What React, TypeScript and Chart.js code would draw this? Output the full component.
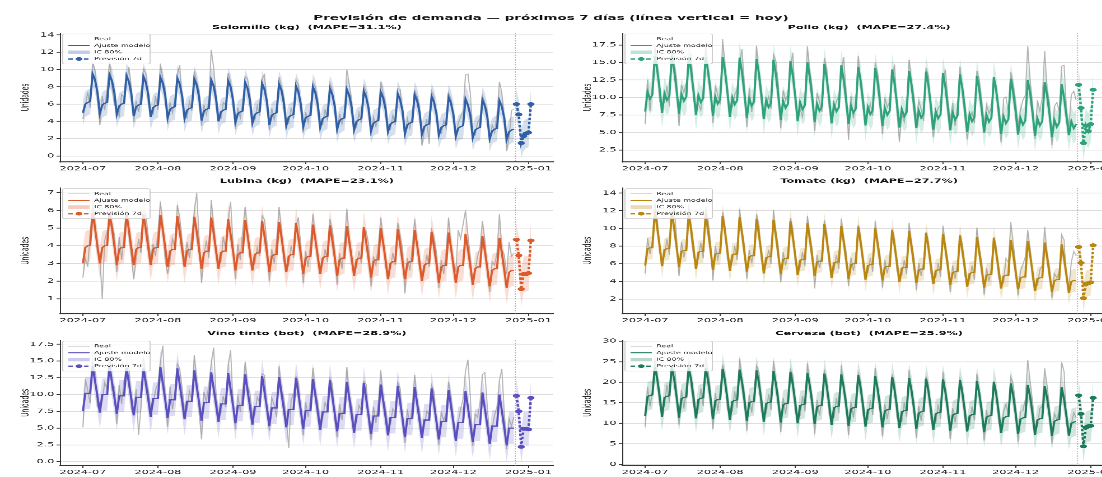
import React, { useEffect, useRef } from 'react';
import { Chart, registerables } from 'chart.js';

Chart.register(...registerables);

// ---------------- text / dates ----------------
const SUPTITLE = 'Previsión de demanda — próximos 7 días (línea vertical = hoy)';
const Y_LABEL = 'Unidades';
const LEGEND_LABELS = ['Real', 'Ajuste modelo', 'IC 80%', 'Previsión 7d'];
const START_DATE = '2024-07-01';
const FORECAST_START = '2024-12-27';
const HOY = '2024-12-26T14:00:00';
const MONTH_TICKS = ['2024-07', '2024-08', '2024-09', '2024-10', '2024-11', '2024-12', '2025-01'];

// ---------------- data (daily, from 2024-07-01) ----------------
const SOLOMILLO_REAL = [
  4.3,5.8,7.4,5.6,10.8,9.9,6.5,
  3.6,6.9,5.3,7.8,11.0,8.1,5.9,
  5.5,4.6,7.1,6.8,8.4,10.3,7.9,
  3.9,6.4,5.1,7.2,10.1,9.6,6.2,
  5.2,4.8,6.9,5.3,10.7,8.8,7.8,
  3.7,6.2,5.0,6.6,9.4,10.5,6.0,
  4.9,4.4,6.3,5.2,9.8,8.6,7.6,
  3.5,5.9,4.8,6.4,12.3,10.2,7.1,
  4.6,4.3,6.2,5.9,9.6,8.5,5.8,
  3.1,5.6,4.4,6.1,9.2,8.9,7.0,
  4.5,4.1,5.8,4.6,8.9,9.4,5.7,
  3.0,5.5,4.2,5.7,9.1,8.0,6.8,
  4.2,3.8,5.6,4.3,8.8,8.2,5.3,
  2.7,5.1,3.9,5.5,8.6,7.9,6.6,
  3.9,3.6,5.4,4.1,8.4,7.6,5.1,
  2.5,4.9,3.7,5.2,10.0,8.3,6.3,
  3.6,3.3,5.0,3.8,8.1,7.4,4.9,
  2.3,4.5,3.4,4.9,8.6,7.2,6.1,
  3.4,3.1,4.7,3.6,7.8,7.7,4.6,
  2.0,4.3,3.2,4.6,7.6,6.9,5.8,
  1.2,3.0,4.3,1.4,7.5,6.8,4.4,
  3.0,2.6,4.1,3.2,7.3,6.6,4.3,
  1.7,3.8,4.5,5.3,9.4,9.5,7.2,
  2.8,2.4,3.9,4.4,7.0,6.1,5.2,
  1.5,3.6,2.7,4.8,8.6,7.3,4.0,
  0.6,2.2,5.3,5.4,
];
const SOLOMILLO_FIT = [
  5.0,6.0,6.2,6.3,9.5,8.8,7.4,
  4.9,5.9,6.1,6.2,9.4,8.7,7.3,
  4.8,5.8,6.0,6.1,9.3,8.6,7.2,
  4.6,5.7,5.9,6.0,9.2,8.5,7.1,
  4.5,5.6,5.8,5.9,9.1,8.4,7.0,
  4.4,5.4,5.6,5.7,9.0,8.3,6.9,
  4.3,5.3,5.5,5.6,8.9,8.2,6.8,
  4.1,5.2,5.4,5.5,8.8,8.1,6.6,
  4.0,5.1,5.3,5.4,8.7,8.0,6.5,
  3.9,4.9,5.1,5.2,8.5,7.8,6.4,
  3.8,4.8,5.0,5.1,8.4,7.7,6.3,
  3.6,4.7,4.9,5.0,8.3,7.6,6.1,
  3.5,4.5,4.7,4.8,8.1,7.4,6.0,
  3.4,4.4,4.6,4.7,8.0,7.3,5.9,
  3.3,4.3,4.5,4.6,7.8,7.1,5.8,
  3.1,4.1,4.3,4.4,7.7,7.0,5.6,
  3.0,4.0,4.2,4.3,7.5,6.8,5.5,
  2.9,3.8,4.0,4.1,7.4,6.7,5.4,
  2.8,3.7,3.9,4.0,7.2,6.5,5.2,
  2.6,3.6,3.8,3.9,7.1,6.4,5.1,
  2.5,3.4,3.6,3.7,6.9,6.2,4.9,
  2.4,3.3,3.5,3.6,6.8,6.1,4.8,
  2.3,3.2,3.4,3.5,6.6,5.9,4.7,
  2.1,3.0,3.2,3.3,6.5,5.8,4.5,
  2.0,2.9,3.1,3.2,6.4,5.7,4.4,
  1.9,2.8,3.0,3.1,
];
const SOLOMILLO_LO = [
  3.5,4.5,4.7,4.8,8.0,7.3,5.9,
  3.4,4.4,4.6,4.7,7.9,7.2,5.8,
  3.3,4.3,4.5,4.6,7.8,7.1,5.7,
  3.1,4.2,4.4,4.5,7.7,7.0,5.6,
  3.0,4.1,4.3,4.4,7.6,6.9,5.5,
  2.9,3.9,4.1,4.2,7.5,6.8,5.4,
  2.8,3.8,4.0,4.1,7.4,6.7,5.3,
  2.6,3.7,3.9,4.0,7.3,6.6,5.1,
  2.5,3.6,3.8,3.9,7.2,6.5,5.0,
  2.4,3.4,3.6,3.7,7.0,6.3,4.9,
  2.3,3.3,3.5,3.6,6.9,6.2,4.8,
  2.1,3.2,3.4,3.5,6.8,6.1,4.6,
  2.0,3.0,3.2,3.3,6.6,5.9,4.5,
  1.9,2.9,3.1,3.2,6.5,5.8,4.4,
  1.8,2.8,3.0,3.1,6.3,5.6,4.3,
  1.6,2.6,2.8,2.9,6.2,5.5,4.1,
  1.5,2.5,2.7,2.8,6.0,5.3,4.0,
  1.4,2.3,2.5,2.6,5.9,5.2,3.9,
  1.3,2.2,2.4,2.5,5.7,5.0,3.7,
  1.1,2.1,2.3,2.4,5.6,4.9,3.6,
  1.0,1.9,2.1,2.2,5.4,4.7,3.4,
  0.9,1.8,2.0,2.1,5.3,4.6,3.3,
  0.8,1.7,1.9,2.0,5.1,4.4,3.2,
  0.6,1.5,1.7,1.8,5.0,4.3,3.0,
  0.5,1.4,1.6,1.7,4.9,4.2,2.9,
  0.4,1.3,1.5,1.6,
];
const SOLOMILLO_HI = [
  6.5,7.5,7.7,7.8,11.0,10.3,8.9,
  6.4,7.4,7.6,7.7,10.9,10.2,8.8,
  6.3,7.3,7.5,7.6,10.8,10.1,8.7,
  6.1,7.2,7.4,7.5,10.7,10.0,8.6,
  6.0,7.1,7.3,7.4,10.6,9.9,8.5,
  5.9,6.9,7.1,7.2,10.5,9.8,8.4,
  5.8,6.8,7.0,7.1,10.4,9.7,8.3,
  5.6,6.7,6.9,7.0,10.3,9.6,8.1,
  5.5,6.6,6.8,6.9,10.2,9.5,8.0,
  5.4,6.4,6.6,6.7,10.0,9.3,7.9,
  5.3,6.3,6.5,6.6,9.9,9.2,7.8,
  5.1,6.2,6.4,6.5,9.8,9.1,7.6,
  5.0,6.0,6.2,6.3,9.6,8.9,7.5,
  4.9,5.9,6.1,6.2,9.5,8.8,7.4,
  4.8,5.8,6.0,6.1,9.3,8.6,7.3,
  4.6,5.6,5.8,5.9,9.2,8.5,7.1,
  4.5,5.5,5.7,5.8,9.0,8.3,7.0,
  4.4,5.3,5.5,5.6,8.9,8.2,6.9,
  4.3,5.2,5.4,5.5,8.7,8.0,6.7,
  4.1,5.1,5.3,5.4,8.6,7.9,6.6,
  4.0,4.9,5.1,5.2,8.4,7.7,6.4,
  3.9,4.8,5.0,5.1,8.3,7.6,6.3,
  3.8,4.7,4.9,5.0,8.1,7.4,6.2,
  3.6,4.5,4.7,4.8,8.0,7.3,6.0,
  3.5,4.4,4.6,4.7,7.9,7.2,5.9,
  3.4,4.3,4.5,4.6,
];
const SOLOMILLO_FC = [6.0, 4.8, 1.5, 2.3, 2.6, 2.7, 6.0];
const SOLOMILLO_FC_LO = [4.3, 3.1, -0.2, 0.6, 0.9, 1.0, 4.3];
const SOLOMILLO_FC_HI = [7.7, 6.5, 3.2, 4.0, 4.3, 4.4, 7.7];

const POLLO_REAL = [
  6.2,12.5,8.1,11.9,17.2,15.1,9.4,
  8.9,9.3,11.6,8.7,16.8,14.9,12.6,
  5.9,11.8,10.7,12.1,14.6,16.2,9.7,
  8.6,9.1,8.2,11.3,17.5,13.0,12.2,
  6.4,11.7,10.3,9.0,18.3,14.6,10.1,
  8.5,8.6,10.4,11.2,14.8,16.9,11.9,
  5.8,11.3,7.9,10.7,17.4,12.6,9.2,
  8.0,9.0,10.1,8.4,16.1,15.2,11.8,
  5.6,11.0,9.6,10.5,14.3,16.4,9.0,
  7.7,8.4,7.2,10.2,17.3,13.8,11.4,
  5.2,10.6,9.4,7.9,15.6,14.1,8.6,
  7.6,8.1,9.5,10.1,13.4,15.8,10.9,
  3.9,10.2,7.0,9.6,15.9,11.6,8.4,
  7.3,7.8,9.1,7.4,14.9,13.5,10.6,
  4.8,9.9,8.6,9.4,12.8,14.7,7.9,
  3.7,7.6,6.5,9.2,15.4,12.3,10.2,
  6.9,9.5,8.3,6.6,14.2,13.1,7.5,
  4.3,7.1,8.5,8.9,12.6,14.0,9.8,
  6.6,9.2,5.9,8.6,14.4,10.7,7.2,
  4.0,6.8,7.9,6.3,13.8,12.5,9.6,
  6.2,8.9,7.7,8.6,12.1,11.8,7.0,
  3.6,9.8,10.1,7.8,13.6,11.9,9.4,
  5.9,8.2,9.6,10.3,17.3,12.4,8.9,
  4.1,9.6,8.1,10.0,16.6,11.2,9.1,
  3.2,8.7,9.3,8.0,14.5,14.6,8.2,
  5.8,10.4,10.9,9.6,
];
const POLLO_FIT = [
  8.0,10.8,9.8,10.4,15.9,13.9,11.2,
  7.8,10.6,9.6,10.2,15.9,13.9,11.0,
  7.7,10.5,9.5,10.1,15.8,13.8,10.9,
  7.5,10.3,9.3,9.9,15.8,13.7,10.8,
  7.4,10.1,9.1,9.7,15.8,13.7,10.8,
  7.2,10.0,9.0,9.6,15.7,13.6,10.6,
  7.1,9.8,8.8,9.4,15.5,13.4,10.5,
  6.9,9.6,8.6,9.2,15.4,13.3,10.3,
  6.8,9.5,8.5,9.1,15.2,13.1,10.2,
  6.6,9.3,8.3,8.9,15.0,12.9,10.0,
  6.5,9.1,8.1,8.7,14.8,12.7,9.8,
  6.3,9.0,8.0,8.6,14.6,12.5,9.6,
  6.2,8.8,7.8,8.4,14.4,12.4,9.5,
  6.0,8.6,7.6,8.2,14.2,12.2,9.3,
  5.9,8.5,7.5,8.1,14.0,12.0,9.1,
  5.7,8.3,7.3,7.9,13.8,11.8,8.9,
  5.6,8.1,7.1,7.7,13.7,11.7,8.8,
  5.4,8.0,7.0,7.6,13.5,11.5,8.6,
  5.3,7.8,6.8,7.4,13.3,11.3,8.5,
  5.1,7.6,6.6,7.2,13.1,11.1,8.3,
  5.0,7.5,6.5,7.1,12.9,10.9,8.2,
  4.8,7.3,6.3,6.9,12.7,10.7,8.0,
  4.7,7.1,6.1,6.7,12.5,10.6,7.8,
  4.5,7.0,6.0,6.6,12.2,10.3,7.6,
  4.3,6.8,5.8,6.4,11.9,10.0,7.3,
  4.6,6.6,5.6,6.2,
];
const POLLO_LO = [
  5.8,8.6,7.6,8.2,13.7,11.7,9.0,
  5.6,8.4,7.4,8.0,13.7,11.7,8.8,
  5.5,8.3,7.3,7.9,13.6,11.6,8.7,
  5.3,8.1,7.1,7.7,13.6,11.5,8.6,
  5.2,7.9,6.9,7.5,13.6,11.5,8.6,
  5.0,7.8,6.8,7.4,13.5,11.4,8.4,
  4.9,7.6,6.6,7.2,13.3,11.2,8.3,
  4.7,7.4,6.4,7.0,13.2,11.1,8.1,
  4.6,7.3,6.3,6.9,13.0,10.9,8.0,
  4.4,7.1,6.1,6.7,12.8,10.7,7.8,
  4.3,6.9,5.9,6.5,12.6,10.5,7.6,
  4.1,6.8,5.8,6.4,12.4,10.3,7.4,
  4.0,6.6,5.6,6.2,12.2,10.2,7.3,
  3.8,6.4,5.4,6.0,12.0,10.0,7.1,
  3.7,6.3,5.3,5.9,11.8,9.8,6.9,
  3.5,6.1,5.1,5.7,11.6,9.6,6.7,
  3.4,5.9,4.9,5.5,11.5,9.5,6.6,
  3.2,5.8,4.8,5.4,11.3,9.3,6.4,
  3.1,5.6,4.6,5.2,11.1,9.1,6.3,
  2.9,5.4,4.4,5.0,10.9,8.9,6.1,
  2.8,5.3,4.3,4.9,10.7,8.7,6.0,
  2.6,5.1,4.1,4.7,10.5,8.5,5.8,
  2.5,4.9,3.9,4.5,10.3,8.4,5.6,
  2.3,4.8,3.8,4.4,10.0,8.1,5.4,
  2.1,4.6,3.6,4.2,9.7,7.8,5.1,
  2.4,4.4,3.4,4.0,
];
const POLLO_HI = [
  10.2,13.0,12.0,12.6,18.1,16.1,13.4,
  10.0,12.8,11.8,12.4,18.1,16.1,13.2,
  9.9,12.7,11.7,12.3,18.0,16.0,13.1,
  9.7,12.5,11.5,12.1,18.0,15.9,13.0,
  9.6,12.3,11.3,11.9,18.0,15.9,13.0,
  9.4,12.2,11.2,11.8,17.9,15.8,12.8,
  9.3,12.0,11.0,11.6,17.7,15.6,12.7,
  9.1,11.8,10.8,11.4,17.6,15.5,12.5,
  9.0,11.7,10.7,11.3,17.4,15.3,12.4,
  8.8,11.5,10.5,11.1,17.2,15.1,12.2,
  8.7,11.3,10.3,10.9,17.0,14.9,12.0,
  8.5,11.2,10.2,10.8,16.8,14.7,11.8,
  8.4,11.0,10.0,10.6,16.6,14.6,11.7,
  8.2,10.8,9.8,10.4,16.4,14.4,11.5,
  8.1,10.7,9.7,10.3,16.2,14.2,11.3,
  7.9,10.5,9.5,10.1,16.0,14.0,11.1,
  7.8,10.3,9.3,9.9,15.9,13.9,11.0,
  7.6,10.2,9.2,9.8,15.7,13.7,10.8,
  7.5,10.0,9.0,9.6,15.5,13.5,10.7,
  7.3,9.8,8.8,9.4,15.3,13.3,10.5,
  7.2,9.7,8.7,9.3,15.1,13.1,10.4,
  7.0,9.5,8.5,9.1,14.9,12.9,10.2,
  6.9,9.3,8.3,8.9,14.7,12.8,10.0,
  6.7,9.2,8.2,8.8,14.4,12.5,9.8,
  6.5,9.0,8.0,8.6,14.1,12.2,9.5,
  6.8,8.8,7.8,8.4,
];
const POLLO_FC = [11.8, 8.5, 3.5, 6.0, 5.2, 6.2, 11.1];
const POLLO_FC_LO = [9.3, 6.0, 1.0, 3.5, 2.7, 3.7, 8.6];
const POLLO_FC_HI = [14.3, 11.0, 6.0, 8.5, 7.7, 8.7, 13.6];

const LUBINA_REAL = [
  2.2,3.3,2.8,4.7,6.3,5.4,3.6,
  3.4,1.0,4.3,4.8,5.5,5.3,4.6,
  2.5,4.5,3.2,4.6,6.1,4.6,3.4,
  2.1,3.3,4.4,3.6,5.3,5.8,4.5,
  3.3,4.1,3.4,4.8,6.5,5.1,3.2,
  2.4,3.2,4.4,3.9,6.3,5.6,4.2,
  3.1,4.2,3.3,4.6,5.9,7.0,4.4,
  1.9,3.5,4.3,3.3,6.6,5.2,3.9,
  2.9,3.1,4.5,3.8,5.4,6.5,4.1,
  2.1,4.1,3.2,4.9,6.2,4.8,3.3,
  2.8,3.0,3.9,3.4,5.7,5.5,4.2,
  2.0,3.8,3.0,4.3,6.2,4.9,3.1,
  2.7,2.9,4.0,3.3,5.1,5.6,3.9,
  1.9,3.7,2.8,4.1,5.8,4.5,3.2,
  2.6,3.0,3.8,3.1,5.5,4.9,3.7,
  1.8,3.6,2.7,4.2,6.1,4.4,3.0,
  2.5,2.8,3.7,3.0,5.0,4.8,4.1,
  1.7,3.4,2.9,4.0,5.6,4.3,2.8,
  2.4,2.7,3.6,2.9,5.3,4.6,3.8,
  1.3,3.3,2.6,3.9,5.5,4.1,2.7,
  2.3,2.5,3.5,2.8,4.9,4.5,3.6,
  1.6,3.2,2.4,3.7,5.6,4.0,3.1,
  2.5,4.9,4.4,5.2,6.0,4.6,3.3,
  1.9,2.6,3.4,3.9,5.4,4.3,2.4,
  1.4,3.1,2.9,3.6,5.8,3.8,3.5,
  2.4,4.2,3.4,3.6,
];
const LUBINA_FIT = [
  3.0,3.9,4.0,4.0,5.85,5.0,4.0,
  3.0,3.9,4.0,4.0,5.85,5.0,4.0,
  2.9,3.8,3.9,3.9,5.8,4.9,3.9,
  2.9,3.8,3.9,3.9,5.8,4.9,3.9,
  2.9,3.8,3.9,3.9,5.75,4.9,3.9,
  2.8,3.7,3.8,3.8,5.7,4.8,3.8,
  2.8,3.7,3.8,3.8,5.65,4.8,3.8,
  2.7,3.6,3.7,3.7,5.6,4.7,3.7,
  2.7,3.6,3.7,3.7,5.5,4.65,3.7,
  2.6,3.5,3.6,3.6,5.45,4.6,3.6,
  2.6,3.5,3.6,3.6,5.4,4.55,3.6,
  2.5,3.4,3.5,3.5,5.35,4.5,3.5,
  2.5,3.4,3.5,3.5,5.3,4.45,3.5,
  2.4,3.3,3.4,3.4,5.2,4.35,3.4,
  2.4,3.3,3.4,3.4,5.15,4.3,3.35,
  2.3,3.2,3.3,3.3,5.1,4.25,3.3,
  2.3,3.2,3.3,3.3,5.05,4.2,3.25,
  2.2,3.1,3.2,3.2,5.0,4.15,3.2,
  2.1,3.0,3.1,3.1,4.95,4.1,3.1,
  2.1,3.0,3.1,3.1,4.9,4.05,3.1,
  2.0,2.9,3.0,3.0,4.8,3.95,3.0,
  1.9,2.8,2.9,2.9,4.75,3.9,2.9,
  1.9,2.8,2.9,2.9,4.65,3.8,2.85,
  1.8,2.7,2.8,2.8,4.55,3.7,2.75,
  1.7,2.6,2.7,2.7,4.45,3.6,2.65,
  1.6,2.5,2.6,2.6,
];
const LUBINA_LO = [
  2.1,3.0,3.1,3.1,4.95,4.1,3.1,
  2.1,3.0,3.1,3.1,4.95,4.1,3.1,
  2.0,2.9,3.0,3.0,4.9,4.0,3.0,
  2.0,2.9,3.0,3.0,4.9,4.0,3.0,
  2.0,2.9,3.0,3.0,4.85,4.0,3.0,
  1.9,2.8,2.9,2.9,4.8,3.9,2.9,
  1.9,2.8,2.9,2.9,4.75,3.9,2.9,
  1.8,2.7,2.8,2.8,4.7,3.8,2.8,
  1.8,2.7,2.8,2.8,4.6,3.75,2.8,
  1.7,2.6,2.7,2.7,4.55,3.7,2.7,
  1.7,2.6,2.7,2.7,4.5,3.65,2.7,
  1.6,2.5,2.6,2.6,4.45,3.6,2.6,
  1.6,2.5,2.6,2.6,4.4,3.55,2.6,
  1.5,2.4,2.5,2.5,4.3,3.45,2.5,
  1.5,2.4,2.5,2.5,4.25,3.4,2.45,
  1.4,2.3,2.4,2.4,4.2,3.35,2.4,
  1.4,2.3,2.4,2.4,4.15,3.3,2.35,
  1.3,2.2,2.3,2.3,4.1,3.25,2.3,
  1.2,2.1,2.2,2.2,4.05,3.2,2.2,
  1.2,2.1,2.2,2.2,4.0,3.15,2.2,
  1.1,2.0,2.1,2.1,3.9,3.05,2.1,
  1.0,1.9,2.0,2.0,3.85,3.0,2.0,
  1.0,1.9,2.0,2.0,3.75,2.9,1.95,
  0.9,1.8,1.9,1.9,3.65,2.8,1.85,
  0.8,1.7,1.8,1.8,3.55,2.7,1.75,
  0.7,1.6,1.7,1.7,
];
const LUBINA_HI = [
  3.9,4.8,4.9,4.9,6.75,5.9,4.9,
  3.9,4.8,4.9,4.9,6.75,5.9,4.9,
  3.8,4.7,4.8,4.8,6.7,5.8,4.8,
  3.8,4.7,4.8,4.8,6.7,5.8,4.8,
  3.8,4.7,4.8,4.8,6.65,5.8,4.8,
  3.7,4.6,4.7,4.7,6.6,5.7,4.7,
  3.7,4.6,4.7,4.7,6.55,5.7,4.7,
  3.6,4.5,4.6,4.6,6.5,5.6,4.6,
  3.6,4.5,4.6,4.6,6.4,5.55,4.6,
  3.5,4.4,4.5,4.5,6.35,5.5,4.5,
  3.5,4.4,4.5,4.5,6.3,5.45,4.5,
  3.4,4.3,4.4,4.4,6.25,5.4,4.4,
  3.4,4.3,4.4,4.4,6.2,5.35,4.4,
  3.3,4.2,4.3,4.3,6.1,5.25,4.3,
  3.3,4.2,4.3,4.3,6.05,5.2,4.25,
  3.2,4.1,4.2,4.2,6.0,5.15,4.2,
  3.2,4.1,4.2,4.2,5.95,5.1,4.15,
  3.1,4.0,4.1,4.1,5.9,5.05,4.1,
  3.0,3.9,4.0,4.0,5.85,5.0,4.0,
  3.0,3.9,4.0,4.0,5.8,4.95,4.0,
  2.9,3.8,3.9,3.9,5.7,4.85,3.9,
  2.8,3.7,3.8,3.8,5.65,4.8,3.8,
  2.8,3.7,3.8,3.8,5.55,4.7,3.75,
  2.7,3.6,3.7,3.7,5.45,4.6,3.65,
  2.6,3.5,3.6,3.6,5.35,4.5,3.55,
  2.5,3.4,3.5,3.5,
];
const LUBINA_FC = [4.35, 3.45, 1.55, 2.4, 2.4, 2.45, 4.3];
const LUBINA_FC_LO = [3.35, 2.45, 0.55, 1.4, 1.4, 1.45, 3.3];
const LUBINA_FC_HI = [5.35, 4.45, 2.55, 3.4, 3.4, 3.45, 5.3];

const TOMATE_REAL = [
  4.9,8.9,7.1,8.6,12.9,11.2,7.2,
  6.6,6.8,8.8,7.0,11.2,12.6,8.9,
  4.6,8.5,6.7,8.3,12.8,9.1,6.8,
  6.3,6.5,8.4,6.6,12.4,10.9,8.5,
  4.1,8.0,6.5,7.9,11.9,10.2,6.5,
  5.9,6.2,8.0,6.4,12.2,9.8,8.1,
  4.3,7.6,6.1,7.7,11.6,10.4,6.4,
  5.7,5.9,7.6,6.0,12.1,9.6,7.9,
  3.9,7.3,5.8,7.4,11.2,9.9,6.1,
  5.4,5.6,7.3,5.7,11.4,9.3,7.6,
  3.2,7.0,5.5,7.1,10.9,9.5,5.8,
  5.1,5.3,7.0,5.4,11.1,8.9,7.3,
  3.5,6.7,5.2,6.8,10.4,9.1,5.5,
  4.9,5.0,6.7,5.1,10.8,8.6,7.0,
  3.3,6.4,4.9,6.5,9.9,8.8,5.2,
  4.6,4.7,6.4,4.8,10.6,8.3,6.7,
  3.0,6.1,4.6,6.2,9.6,8.5,4.9,
  4.4,4.4,6.1,4.5,10.3,8.0,6.4,
  2.8,5.8,4.3,5.9,9.3,8.2,4.6,
  4.1,4.1,5.8,4.2,10.1,7.7,6.1,
  2.5,5.5,4.0,5.6,9.0,7.9,4.3,
  3.9,3.8,6.6,6.1,10.7,8.4,5.8,
  2.4,5.2,5.9,6.8,9.8,7.6,4.2,
  3.6,3.5,5.3,5.8,10.2,7.1,5.6,
  2.1,4.9,4.4,5.1,9.3,8.7,4.0,
  3.3,6.2,7.4,6.9,
];
const TOMATE_FIT = [
  5.8,7.7,7.8,7.8,12.0,10.1,8.0,
  5.7,7.6,7.7,7.7,11.9,10.0,7.9,
  5.6,7.4,7.5,7.5,11.7,9.9,7.7,
  5.4,7.3,7.4,7.4,11.6,9.7,7.6,
  5.3,7.1,7.2,7.2,11.4,9.6,7.4,
  5.2,7.0,7.1,7.1,11.3,9.5,7.3,
  5.1,6.8,6.9,6.9,11.1,9.3,7.2,
  4.9,6.7,6.8,6.8,11.0,9.2,7.0,
  4.8,6.5,6.6,6.6,10.8,9.0,6.9,
  4.7,6.4,6.5,6.5,10.6,8.8,6.8,
  4.6,6.2,6.3,6.3,10.5,8.7,6.7,
  4.4,6.1,6.2,6.2,10.3,8.5,6.5,
  4.3,5.9,6.0,6.0,10.2,8.4,6.4,
  4.2,5.8,5.9,5.9,10.0,8.3,6.2,
  4.1,5.6,5.7,5.7,9.8,8.1,6.1,
  3.9,5.5,5.6,5.6,9.7,8.0,5.9,
  3.8,5.3,5.4,5.4,9.5,7.8,5.8,
  3.7,5.2,5.3,5.3,9.4,7.7,5.7,
  3.6,5.0,5.1,5.1,9.2,7.5,5.6,
  3.4,4.9,5.0,5.0,9.0,7.3,5.4,
  3.3,4.7,4.8,4.8,8.9,7.2,5.3,
  3.2,4.6,4.7,4.7,8.7,7.1,5.1,
  3.1,4.4,4.5,4.5,8.6,7.0,5.0,
  2.9,4.3,4.4,4.4,8.4,6.8,4.8,
  2.8,4.1,4.2,4.2,8.2,6.6,4.7,
  2.7,4.0,4.1,4.1,
];
const TOMATE_LO = [
  4.5,6.4,6.5,6.5,10.7,8.8,6.7,
  4.4,6.3,6.4,6.4,10.6,8.7,6.6,
  4.3,6.1,6.2,6.2,10.4,8.6,6.4,
  4.1,6.0,6.1,6.1,10.3,8.4,6.3,
  4.0,5.8,5.9,5.9,10.1,8.3,6.1,
  3.9,5.7,5.8,5.8,10.0,8.2,6.0,
  3.8,5.5,5.6,5.6,9.8,8.0,5.9,
  3.6,5.4,5.5,5.5,9.7,7.9,5.7,
  3.5,5.2,5.3,5.3,9.5,7.7,5.6,
  3.4,5.1,5.2,5.2,9.3,7.5,5.5,
  3.3,4.9,5.0,5.0,9.2,7.4,5.4,
  3.1,4.8,4.9,4.9,9.0,7.2,5.2,
  3.0,4.6,4.7,4.7,8.9,7.1,5.1,
  2.9,4.5,4.6,4.6,8.7,7.0,4.9,
  2.8,4.3,4.4,4.4,8.5,6.8,4.8,
  2.6,4.2,4.3,4.3,8.4,6.7,4.6,
  2.5,4.0,4.1,4.1,8.2,6.5,4.5,
  2.4,3.9,4.0,4.0,8.1,6.4,4.4,
  2.3,3.7,3.8,3.8,7.9,6.2,4.3,
  2.1,3.6,3.7,3.7,7.7,6.0,4.1,
  2.0,3.4,3.5,3.5,7.6,5.9,4.0,
  1.9,3.3,3.4,3.4,7.4,5.8,3.8,
  1.8,3.1,3.2,3.2,7.3,5.7,3.7,
  1.6,3.0,3.1,3.1,7.1,5.5,3.5,
  1.5,2.8,2.9,2.9,6.9,5.3,3.4,
  1.4,2.7,2.8,2.8,
];
const TOMATE_HI = [
  7.1,9.0,9.1,9.1,13.3,11.4,9.3,
  7.0,8.9,9.0,9.0,13.2,11.3,9.2,
  6.9,8.7,8.8,8.8,13.0,11.2,9.0,
  6.7,8.6,8.7,8.7,12.9,11.0,8.9,
  6.6,8.4,8.5,8.5,12.7,10.9,8.7,
  6.5,8.3,8.4,8.4,12.6,10.8,8.6,
  6.4,8.1,8.2,8.2,12.4,10.6,8.5,
  6.2,8.0,8.1,8.1,12.3,10.5,8.3,
  6.1,7.8,7.9,7.9,12.1,10.3,8.2,
  6.0,7.7,7.8,7.8,11.9,10.1,8.1,
  5.9,7.5,7.6,7.6,11.8,10.0,8.0,
  5.7,7.4,7.5,7.5,11.6,9.8,7.8,
  5.6,7.2,7.3,7.3,11.5,9.7,7.7,
  5.5,7.1,7.2,7.2,11.3,9.6,7.5,
  5.4,6.9,7.0,7.0,11.1,9.4,7.4,
  5.2,6.8,6.9,6.9,11.0,9.3,7.2,
  5.1,6.6,6.7,6.7,10.8,9.1,7.1,
  5.0,6.5,6.6,6.6,10.7,9.0,7.0,
  4.9,6.3,6.4,6.4,10.5,8.8,6.9,
  4.7,6.2,6.3,6.3,10.3,8.6,6.7,
  4.6,6.0,6.1,6.1,10.2,8.5,6.6,
  4.5,5.9,6.0,6.0,10.0,8.4,6.4,
  4.4,5.7,5.8,5.8,9.9,8.3,6.3,
  4.2,5.6,5.7,5.7,9.7,8.1,6.1,
  4.1,5.4,5.5,5.5,9.5,7.9,6.0,
  4.0,5.3,5.4,5.4,
];
const TOMATE_FC = [7.9, 6.1, 2.1, 3.7, 3.8, 3.9, 8.1];
const TOMATE_FC_LO = [6.4, 4.6, 0.6, 2.2, 2.3, 2.4, 6.6];
const TOMATE_FC_HI = [9.4, 7.6, 3.6, 5.2, 5.3, 5.4, 9.6];

const VINO_REAL = [
  5.1,12.3,10.6,8.7,14.9,13.5,8.2,
  8.8,9.0,11.8,10.9,16.0,10.7,11.1,
  5.6,11.4,8.6,12.1,13.2,14.3,7.9,
  6.9,10.8,4.0,8.1,15.5,12.4,10.6,
  7.9,8.3,10.7,11.6,14.8,17.3,9.8,
  5.2,11.2,7.8,10.3,14.6,13.8,10.9,
  7.4,7.6,10.5,9.2,15.9,12.2,7.5,
  3.3,10.4,8.9,11.5,14.6,17.0,9.9,
  6.8,7.3,9.8,8.1,14.2,16.6,8.6,
  4.8,9.9,7.4,10.6,14.8,11.3,10.2,
  6.9,7.0,9.6,8.8,13.1,12.9,7.4,
  4.6,9.5,8.4,6.6,14.2,10.8,9.4,
  6.3,2.0,9.2,10.1,12.7,11.9,6.9,
  3.9,8.9,6.7,9.3,14.0,10.4,8.8,
  5.9,6.4,8.8,7.9,12.4,11.6,6.3,
  3.6,8.6,6.2,9.0,14.1,9.8,8.4,
  5.5,5.9,8.4,7.6,12.0,11.5,5.8,
  3.2,8.2,5.8,8.7,13.6,9.4,7.9,
  5.1,5.5,7.9,7.3,11.8,10.9,5.4,
  2.8,7.8,5.5,8.3,12.9,9.0,7.6,
  4.6,5.2,7.5,7.0,11.4,10.4,5.1,
  2.5,7.4,6.1,7.3,11.9,9.7,6.4,
  4.2,6.0,7.8,9.4,13.5,15.2,9.6,
  2.3,7.1,6.6,8.9,13.0,13.3,8.2,
  3.6,5.0,6.9,8.2,12.1,13.8,7.4,
  1.9,6.4,5.3,6.7,
];
const VINO_FIT = [
  7.5,10.2,10.2,10.2,14.2,12.0,9.8,
  7.3,10.0,10.0,10.0,14.2,11.9,9.6,
  7.1,9.8,9.8,9.8,14.0,11.7,9.4,
  6.9,9.6,9.6,9.6,13.9,11.6,9.3,
  6.7,9.4,9.4,9.4,14.1,11.7,9.2,
  6.5,9.2,9.2,9.2,13.9,11.5,9.0,
  6.3,9.0,9.0,9.0,13.6,11.2,8.8,
  6.1,8.8,8.8,8.8,13.3,10.9,8.5,
  5.9,8.6,8.6,8.6,13.2,10.8,8.4,
  5.7,8.4,8.4,8.4,13.0,10.6,8.2,
  5.5,8.2,8.2,8.2,12.8,10.4,8.0,
  5.3,8.0,8.0,8.0,12.6,10.2,7.8,
  5.1,7.8,7.8,7.8,12.5,10.1,7.6,
  4.9,7.6,7.6,7.6,12.3,9.9,7.4,
  4.7,7.4,7.4,7.4,12.1,9.7,7.2,
  4.5,7.2,7.2,7.2,11.9,9.5,7.0,
  4.3,7.0,7.0,7.0,11.7,9.3,6.8,
  4.1,6.8,6.8,6.8,11.5,9.1,6.6,
  3.9,6.6,6.6,6.6,11.3,8.9,6.4,
  3.7,6.4,6.4,6.4,11.1,8.7,6.2,
  3.5,6.2,6.2,6.2,10.9,8.5,6.0,
  3.3,6.0,6.0,6.0,10.7,8.3,5.8,
  3.1,5.8,5.8,5.8,10.5,8.1,5.6,
  2.9,5.5,5.5,5.5,10.3,7.9,5.4,
  2.6,5.3,5.3,5.3,10.0,7.6,5.1,
  2.4,5.0,5.0,5.0,
];
const VINO_LO = [
  5.1,7.8,7.8,7.8,11.8,9.6,7.4,
  4.9,7.6,7.6,7.6,11.8,9.5,7.2,
  4.7,7.4,7.4,7.4,11.6,9.3,7.0,
  4.5,7.2,7.2,7.2,11.5,9.2,6.9,
  4.3,7.0,7.0,7.0,11.7,9.3,6.8,
  4.1,6.8,6.8,6.8,11.5,9.1,6.6,
  3.9,6.6,6.6,6.6,11.2,8.8,6.4,
  3.7,6.4,6.4,6.4,10.9,8.5,6.1,
  3.5,6.2,6.2,6.2,10.8,8.4,6.0,
  3.3,6.0,6.0,6.0,10.6,8.2,5.8,
  3.1,5.8,5.8,5.8,10.4,8.0,5.6,
  2.9,5.6,5.6,5.6,10.2,7.8,5.4,
  2.7,5.4,5.4,5.4,10.1,7.7,5.2,
  2.5,5.2,5.2,5.2,9.9,7.5,5.0,
  2.3,5.0,5.0,5.0,9.7,7.3,4.8,
  2.1,4.8,4.8,4.8,9.5,7.1,4.6,
  1.9,4.6,4.6,4.6,9.3,6.9,4.4,
  1.7,4.4,4.4,4.4,9.1,6.7,4.2,
  1.5,4.2,4.2,4.2,8.9,6.5,4.0,
  1.3,4.0,4.0,4.0,8.7,6.3,3.8,
  1.1,3.8,3.8,3.8,8.5,6.1,3.6,
  0.9,3.6,3.6,3.6,8.3,5.9,3.4,
  0.7,3.4,3.4,3.4,8.1,5.7,3.2,
  0.5,3.1,3.1,3.1,7.9,5.5,3.0,
  0.2,2.9,2.9,2.9,7.6,5.2,2.7,
  0.0,2.6,2.6,2.6,
];
const VINO_HI = [
  9.9,12.6,12.6,12.6,16.6,14.4,12.2,
  9.7,12.4,12.4,12.4,16.6,14.3,12.0,
  9.5,12.2,12.2,12.2,16.4,14.1,11.8,
  9.3,12.0,12.0,12.0,16.3,14.0,11.7,
  9.1,11.8,11.8,11.8,16.5,14.1,11.6,
  8.9,11.6,11.6,11.6,16.3,13.9,11.4,
  8.7,11.4,11.4,11.4,16.0,13.6,11.2,
  8.5,11.2,11.2,11.2,15.7,13.3,10.9,
  8.3,11.0,11.0,11.0,15.6,13.2,10.8,
  8.1,10.8,10.8,10.8,15.4,13.0,10.6,
  7.9,10.6,10.6,10.6,15.2,12.8,10.4,
  7.7,10.4,10.4,10.4,15.0,12.6,10.2,
  7.5,10.2,10.2,10.2,14.9,12.5,10.0,
  7.3,10.0,10.0,10.0,14.7,12.3,9.8,
  7.1,9.8,9.8,9.8,14.5,12.1,9.6,
  6.9,9.6,9.6,9.6,14.3,11.9,9.4,
  6.7,9.4,9.4,9.4,14.1,11.7,9.2,
  6.5,9.2,9.2,9.2,13.9,11.5,9.0,
  6.3,9.0,9.0,9.0,13.7,11.3,8.8,
  6.1,8.8,8.8,8.8,13.5,11.1,8.6,
  5.9,8.6,8.6,8.6,13.3,10.9,8.4,
  5.7,8.4,8.4,8.4,13.1,10.7,8.2,
  5.5,8.2,8.2,8.2,12.9,10.5,8.0,
  5.3,7.9,7.9,7.9,12.7,10.3,7.8,
  5.0,7.7,7.7,7.7,12.4,10.0,7.5,
  4.8,7.4,7.4,7.4,
];
const VINO_FC = [9.8, 7.5, 2.2, 4.9, 4.9, 4.8, 9.5];
const VINO_FC_LO = [7.3, 5.0, -0.3, 2.4, 2.4, 2.3, 7.0];
const VINO_FC_HI = [12.3, 10.0, 4.7, 7.4, 7.4, 7.3, 12.0];

const CERVEZA_REAL = [
  9.2,18.9,14.1,17.6,25.6,21.9,14.3,
  13.8,14.2,19.4,15.1,22.4,24.9,18.2,
  9.7,18.1,13.6,18.7,25.1,19.2,14.1,
  12.9,13.3,18.5,14.2,26.2,22.8,17.9,
  8.6,17.4,13.0,17.9,24.3,21.5,13.2,
  12.6,12.9,17.8,13.8,25.8,20.6,17.6,
  8.1,16.9,12.6,17.2,24.0,22.4,12.8,
  12.1,12.4,17.1,13.3,25.2,19.8,17.1,
  7.9,16.2,12.3,16.8,23.1,21.7,12.5,
  11.6,11.8,16.6,12.9,24.6,19.1,16.7,
  7.4,15.7,11.9,16.3,22.8,20.9,12.1,
  11.2,11.3,16.1,12.4,24.1,18.5,16.2,
  7.1,15.2,11.4,15.9,22.3,20.3,11.8,
  10.8,10.9,15.6,12.0,23.5,17.9,15.8,
  6.8,14.7,11.0,15.4,21.9,19.8,11.4,
  10.3,10.4,15.1,11.6,23.0,17.4,15.3,
  6.5,14.2,10.6,14.9,21.4,19.3,11.0,
  9.9,9.9,14.6,11.1,22.6,16.9,14.9,
  6.1,13.7,10.2,14.4,20.8,18.8,10.6,
  9.4,9.5,14.1,10.7,22.1,16.4,14.4,
  5.8,13.2,9.8,13.9,20.3,18.2,10.2,
  8.9,12.8,14.6,12.2,21.2,19.5,14.0,
  5.5,12.9,13.1,15.8,25.4,20.1,15.3,
  8.4,9.1,13.6,14.2,23.4,19.2,13.5,
  5.2,12.4,10.9,13.1,24.9,22.6,9.4,
  8.1,9.7,12.6,11.3,
];
const CERVEZA_FIT = [
  11.8,16.5,16.8,16.9,23.8,20.8,16.6,
  11.6,16.3,16.6,16.7,23.7,20.7,16.4,
  11.4,16.0,16.3,16.4,23.6,20.6,16.3,
  11.2,15.8,16.1,16.2,23.5,20.4,16.1,
  11.0,15.5,15.8,15.9,23.3,20.2,15.9,
  10.8,15.3,15.6,15.7,23.1,20.0,15.7,
  10.6,15.0,15.3,15.4,22.9,19.8,15.5,
  10.4,14.8,15.1,15.2,22.7,19.6,15.3,
  10.2,14.5,14.8,14.9,22.5,19.4,15.1,
  10.0,14.3,14.6,14.7,22.3,19.2,14.9,
  9.8,14.0,14.3,14.4,22.1,19.0,14.7,
  9.6,13.8,14.1,14.2,21.9,18.8,14.5,
  9.4,13.5,13.8,13.9,21.7,18.6,14.3,
  9.2,13.3,13.6,13.7,21.5,18.4,14.1,
  9.0,13.0,13.3,13.4,21.3,18.2,13.9,
  8.8,12.8,13.1,13.2,21.1,18.0,13.7,
  8.6,12.5,12.8,12.9,20.9,17.8,13.5,
  8.4,12.3,12.6,12.7,20.7,17.6,13.3,
  8.2,12.0,12.3,12.4,20.5,17.4,13.1,
  8.0,11.8,12.1,12.2,20.3,17.2,12.9,
  7.8,11.5,11.8,11.9,20.0,17.0,12.7,
  7.6,11.3,11.6,11.7,19.7,16.7,12.4,
  7.4,11.0,11.3,11.4,19.4,16.4,12.2,
  7.2,10.8,11.1,11.2,19.1,16.1,12.0,
  6.9,10.5,10.8,10.9,18.8,15.8,11.7,
  7.0,10.0,10.3,10.4,
];
const CERVEZA_LO = [
  8.3,13.0,13.3,13.4,20.3,17.3,13.1,
  8.1,12.8,13.1,13.2,20.2,17.2,12.9,
  7.9,12.5,12.8,12.9,20.1,17.1,12.8,
  7.7,12.3,12.6,12.7,20.0,16.9,12.6,
  7.5,12.0,12.3,12.4,19.8,16.7,12.4,
  7.3,11.8,12.1,12.2,19.6,16.5,12.2,
  7.1,11.5,11.8,11.9,19.4,16.3,12.0,
  6.9,11.3,11.6,11.7,19.2,16.1,11.8,
  6.7,11.0,11.3,11.4,19.0,15.9,11.6,
  6.5,10.8,11.1,11.2,18.8,15.7,11.4,
  6.3,10.5,10.8,10.9,18.6,15.5,11.2,
  6.1,10.3,10.6,10.7,18.4,15.3,11.0,
  5.9,10.0,10.3,10.4,18.2,15.1,10.8,
  5.7,9.8,10.1,10.2,18.0,14.9,10.6,
  5.5,9.5,9.8,9.9,17.8,14.7,10.4,
  5.3,9.3,9.6,9.7,17.6,14.5,10.2,
  5.1,9.0,9.3,9.4,17.4,14.3,10.0,
  4.9,8.8,9.1,9.2,17.2,14.1,9.8,
  4.7,8.5,8.8,8.9,17.0,13.9,9.6,
  4.5,8.3,8.6,8.7,16.8,13.7,9.4,
  4.3,8.0,8.3,8.4,16.5,13.5,9.2,
  4.1,7.8,8.1,8.2,16.2,13.2,8.9,
  3.9,7.5,7.8,7.9,15.9,12.9,8.7,
  3.7,7.3,7.6,7.7,15.6,12.6,8.5,
  3.4,7.0,7.3,7.4,15.3,12.3,8.2,
  3.5,6.5,6.8,6.9,
];
const CERVEZA_HI = [
  15.3,20.0,20.3,20.4,27.3,24.3,20.1,
  15.1,19.8,20.1,20.2,27.2,24.2,19.9,
  14.9,19.5,19.8,19.9,27.1,24.1,19.8,
  14.7,19.3,19.6,19.7,27.0,23.9,19.6,
  14.5,19.0,19.3,19.4,26.8,23.7,19.4,
  14.3,18.8,19.1,19.2,26.6,23.5,19.2,
  14.1,18.5,18.8,18.9,26.4,23.3,19.0,
  13.9,18.3,18.6,18.7,26.2,23.1,18.8,
  13.7,18.0,18.3,18.4,26.0,22.9,18.6,
  13.5,17.8,18.1,18.2,25.8,22.7,18.4,
  13.3,17.5,17.8,17.9,25.6,22.5,18.2,
  13.1,17.3,17.6,17.7,25.4,22.3,18.0,
  12.9,17.0,17.3,17.4,25.2,22.1,17.8,
  12.7,16.8,17.1,17.2,25.0,21.9,17.6,
  12.5,16.5,16.8,16.9,24.8,21.7,17.4,
  12.3,16.3,16.6,16.7,24.6,21.5,17.2,
  12.1,16.0,16.3,16.4,24.4,21.3,17.0,
  11.9,15.8,16.1,16.2,24.2,21.1,16.8,
  11.7,15.5,15.8,15.9,24.0,20.9,16.6,
  11.5,15.3,15.6,15.7,23.8,20.7,16.4,
  11.3,15.0,15.3,15.4,23.5,20.5,16.2,
  11.1,14.8,15.1,15.2,23.2,20.2,15.9,
  10.9,14.5,14.8,14.9,22.9,19.9,15.7,
  10.7,14.3,14.6,14.7,22.6,19.6,15.5,
  10.4,14.0,14.3,14.4,22.3,19.3,15.2,
  10.5,13.5,13.8,13.9,
];
const CERVEZA_FC = [16.8, 12.3, 4.4, 9.0, 9.3, 9.4, 16.2];
const CERVEZA_FC_LO = [13.0, 8.5, 0.6, 5.2, 5.5, 5.6, 12.4];
const CERVEZA_FC_HI = [20.6, 16.1, 8.2, 12.8, 13.1, 13.2, 20.0];

// ---------------- panels ----------------
type PanelDef = {
  title: string; color: string;
  real: number[]; fit: number[]; lo: number[]; hi: number[];
  fc: number[]; fcLo: number[]; fcHi: number[];
  yMin: number; yMax: number; step: number; dec: number; row: number; col: number;
};

const PANELS: PanelDef[] = [
  { title: 'Solomillo (kg)  (MAPE=31.1%)', color: '#2f5fa7', real: SOLOMILLO_REAL, fit: SOLOMILLO_FIT, lo: SOLOMILLO_LO, hi: SOLOMILLO_HI, fc: SOLOMILLO_FC, fcLo: SOLOMILLO_FC_LO, fcHi: SOLOMILLO_FC_HI, yMin: -0.7, yMax: 14.23, step: 2, dec: 0, row: 0, col: 0 },
  { title: 'Pollo (kg)  (MAPE=27.4%)', color: '#2ea37a', real: POLLO_REAL, fit: POLLO_FIT, lo: POLLO_LO, hi: POLLO_HI, fc: POLLO_FC, fcLo: POLLO_FC_LO, fcHi: POLLO_FC_HI, yMin: 0.79, yMax: 19.2, step: 2.5, dec: 1, row: 0, col: 1 },
  { title: 'Lubina (kg)  (MAPE=23.1%)', color: '#dc5a2c', real: LUBINA_REAL, fit: LUBINA_FIT, lo: LUBINA_LO, hi: LUBINA_HI, fc: LUBINA_FC, fcLo: LUBINA_FC_LO, fcHi: LUBINA_FC_HI, yMin: 0.15, yMax: 7.28, step: 1, dec: 0, row: 1, col: 0 },
  { title: 'Tomate (kg)  (MAPE=27.7%)', color: '#b9860f', real: TOMATE_REAL, fit: TOMATE_FIT, lo: TOMATE_LO, hi: TOMATE_HI, fc: TOMATE_FC, fcLo: TOMATE_FC_LO, fcHi: TOMATE_FC_HI, yMin: 0.33, yMax: 14.6, step: 2, dec: 0, row: 1, col: 1 },
  { title: 'Vino tinto (bot)  (MAPE=28.9%)', color: '#5a4fbf', real: VINO_REAL, fit: VINO_FIT, lo: VINO_LO, hi: VINO_HI, fc: VINO_FC, fcLo: VINO_FC_LO, fcHi: VINO_FC_HI, yMin: -0.6, yMax: 18.1, step: 2.5, dec: 1, row: 2, col: 0 },
  { title: 'Cerveza (bot)  (MAPE=25.9%)', color: '#1d7b5b', real: CERVEZA_REAL, fit: CERVEZA_FIT, lo: CERVEZA_LO, hi: CERVEZA_HI, fc: CERVEZA_FC, fcLo: CERVEZA_FC_LO, fcHi: CERVEZA_FC_HI, yMin: -0.3, yMax: 30.24, step: 5, dec: 0, row: 2, col: 1 },
];

// ---------------- layout (figure is stretched like the reference) ----------------
const SX = 1.12;
const SY = 0.6;
const W0 = 1102 / SX;
const H0 = 477 / SY;
const FONT = "'DejaVu Sans', 'Liberation Sans', sans-serif";
const COL_CANVAS_LEFT = [0, 501.5];
const ROW_PLOT_TOP = [55, 313.3, 566.7];
const ROW_PLOT_H = [215, 210, 209];
const ROW_TITLE_PAD_BOTTOM = [3, 5, 5];
const TITLE_PAD_TOP = 2;
const TITLE_LINE = 12;
const Y_AXIS_W = 54;
const X_AXIS_H = 28;
const PAD_RIGHT = 6;
const CANVAS_W = 500;
const X_MIN = -9.25;
const X_MAX = 194.25;
const REAL_COLOR = 'rgba(150,150,150,0.7)';
const FIT_WIDTH = 1.9;

const DAY_MS = 86400000;
const toUtc = (s: string) => Date.parse(s.length === 7 ? s + '-01T00:00:00Z' : s.length === 10 ? s + 'T00:00:00Z' : s + 'Z');
const dayIndex = (s: string) => (toUtc(s) - toUtc(START_DATE)) / DAY_MS;

const rgba = (hex: string, a: number) => {
  const n = parseInt(hex.slice(1), 16);
  return `rgba(${(n >> 16) & 255},${(n >> 8) & 255},${n & 255},${a})`;
};

const hoyPlugin = {
  id: 'hoyLine',
  afterDatasetsDraw(chart: any) {
    const { ctx, chartArea, scales } = chart;
    const x = scales.x.getPixelForValue(dayIndex(HOY));
    ctx.save();
    ctx.strokeStyle = 'rgba(130,130,130,0.6)';
    ctx.lineWidth = 0.9;
    ctx.setLineDash([2, 2]);
    ctx.beginPath();
    ctx.moveTo(x, chartArea.top);
    ctx.lineTo(x, chartArea.bottom);
    ctx.stroke();
    ctx.restore();
  },
};

const legendPlugin = {
  id: 'mplLegend',
  afterDraw(chart: any, _args: any, opts: any) {
    const { ctx, chartArea } = chart;
    const color = opts.color as string;
    const x0 = chartArea.left + 2;
    const y0 = chartArea.top + 1.5;
    const w = 78;
    const h = 50;
    ctx.save();
    ctx.beginPath();
    const r = 2;
    ctx.moveTo(x0 + r, y0);
    ctx.lineTo(x0 + w - r, y0);
    ctx.quadraticCurveTo(x0 + w, y0, x0 + w, y0 + r);
    ctx.lineTo(x0 + w, y0 + h - r);
    ctx.quadraticCurveTo(x0 + w, y0 + h, x0 + w - r, y0 + h);
    ctx.lineTo(x0 + r, y0 + h);
    ctx.quadraticCurveTo(x0, y0 + h, x0, y0 + h - r);
    ctx.lineTo(x0, y0 + r);
    ctx.quadraticCurveTo(x0, y0, x0 + r, y0);
    ctx.closePath();
    ctx.fillStyle = 'rgba(255,255,255,0.8)';
    ctx.fill();
    ctx.strokeStyle = 'rgba(200,200,200,0.9)';
    ctx.lineWidth = 1;
    ctx.stroke();

    const rows = [8.5, 19.6, 30.7, 41.8].map((d) => y0 + d);
    const lx0 = x0 + 5;
    const lx1 = x0 + 24;
    // Real
    ctx.strokeStyle = REAL_COLOR;
    ctx.lineWidth = 1;
    ctx.beginPath(); ctx.moveTo(lx0, rows[0]); ctx.lineTo(lx1, rows[0]); ctx.stroke();
    // Ajuste modelo
    ctx.strokeStyle = color;
    ctx.lineWidth = FIT_WIDTH;
    ctx.beginPath(); ctx.moveTo(lx0, rows[1]); ctx.lineTo(lx1, rows[1]); ctx.stroke();
    // IC 80%
    ctx.fillStyle = rgba(color, 0.3);
    ctx.fillRect(lx0, rows[2] - 3, lx1 - lx0, 6);
    // Previsión 7d
    ctx.strokeStyle = color;
    ctx.lineWidth = 2.2;
    ctx.setLineDash([4, 3]);
    ctx.beginPath(); ctx.moveTo(lx0, rows[3]); ctx.lineTo(lx1, rows[3]); ctx.stroke();
    ctx.setLineDash([]);
    ctx.fillStyle = color;
    ctx.beginPath(); ctx.arc((lx0 + lx1) / 2, rows[3], 3, 0, Math.PI * 2); ctx.fill();

    ctx.font = `7px ${FONT}`;
    ctx.fillStyle = '#222';
    ctx.textBaseline = 'middle';
    ctx.textAlign = 'left';
    LEGEND_LABELS.forEach((t, i) => ctx.fillText(t, x0 + 28, rows[i]));
    ctx.restore();
  },
};

function makeConfig(p: PanelDef): any {
  const fcStart = dayIndex(FORECAST_START);
  const pts = (arr: number[], off: number) => arr.map((v, i) => ({ x: off + i, y: v }));
  const band = rgba(p.color, 0.2);
  const tickVals = MONTH_TICKS.map((m) => dayIndex(m));
  const tickLabel = new Map(tickVals.map((v, i) => [v, MONTH_TICKS[i]]));
  const base = { pointRadius: 0, pointHoverRadius: 0, pointHitRadius: 0, tension: 0 };
  return {
    type: 'line',
    data: {
      datasets: [
        { ...base, label: 'lo', data: pts(p.lo, 0), borderWidth: 0, borderColor: 'transparent', fill: false, order: 5 },
        { ...base, label: LEGEND_LABELS[2], data: pts(p.hi, 0), borderWidth: 0, borderColor: 'transparent', backgroundColor: band, fill: '-1', order: 5 },
        { ...base, label: 'fc lo', data: pts(p.fcLo, fcStart), borderWidth: 0, borderColor: 'transparent', fill: false, order: 5 },
        { ...base, label: 'fc hi', data: pts(p.fcHi, fcStart), borderWidth: 0, borderColor: 'transparent', backgroundColor: band, fill: '-1', order: 5 },
        { ...base, label: LEGEND_LABELS[0], data: pts(p.real, 0), borderColor: REAL_COLOR, borderWidth: 1, fill: false, order: 3 },
        { ...base, label: LEGEND_LABELS[1], data: pts(p.fit, 0), borderColor: p.color, borderWidth: FIT_WIDTH, fill: false, order: 2 },
        {
          label: LEGEND_LABELS[3], data: pts(p.fc, fcStart), borderColor: p.color, borderWidth: 2.2, borderDash: [4, 3],
          pointRadius: 3.2, pointHoverRadius: 0, pointHitRadius: 0, pointBackgroundColor: p.color, pointBorderColor: p.color, pointBorderWidth: 0,
          fill: false, tension: 0, order: 1,
        },
      ],
    },
    options: {
      animation: false,
      responsive: false,
      devicePixelRatio: 2,
      events: [],
      layout: { autoPadding: false, padding: { left: 0, right: PAD_RIGHT, top: 0, bottom: 0 } },
      plugins: {
        legend: { display: false },
        tooltip: { enabled: false },
        title: {
          display: true, text: p.title, fullSize: false, color: '#111',
          font: { family: FONT, size: 10, weight: 'bold', lineHeight: TITLE_LINE / 10 },
          padding: { top: TITLE_PAD_TOP, bottom: ROW_TITLE_PAD_BOTTOM[p.row] },
        },
        mplLegend: { color: p.color },
      },
      scales: {
        x: {
          type: 'linear', min: X_MIN, max: X_MAX,
          afterBuildTicks: (s: any) => { s.ticks = tickVals.map((v) => ({ value: v })); },
          afterFit: (s: any) => { s.height = X_AXIS_H; },
          ticks: {
            autoSkip: false, maxRotation: 0, minRotation: 0, padding: 2, color: '#222',
            font: { family: FONT, size: 10 },
            callback: (v: number) => tickLabel.get(v) ?? '',
          },
          grid: { drawOnChartArea: false, drawTicks: true, tickLength: 3.5, tickColor: '#333', tickWidth: 1 },
          border: { display: true, color: '#333', width: 1.6 },
        },
        y: {
          type: 'linear', min: p.yMin, max: p.yMax,
          afterFit: (s: any) => { s.width = Y_AXIS_W; },
          ticks: {
            stepSize: p.step, includeBounds: false, padding: 2, color: '#222',
            font: { family: FONT, size: 10 },
            callback: (v: number) => Number(v).toFixed(p.dec),
          },
          grid: { color: 'rgba(176,176,176,0.45)', lineWidth: 1.2, drawTicks: true, tickLength: 3.5, tickColor: '#333', tickWidth: 1.4 },
          border: { display: true, color: '#333', width: 1 },
          title: { display: true, text: Y_LABEL, color: '#222', font: { family: FONT, size: 10 }, padding: { top: 17, bottom: 0 } },
        },
      },
    },
    plugins: [hoyPlugin, legendPlugin],
  };
}

function Panel({ p }: { p: PanelDef }) {
  const ref = useRef<HTMLCanvasElement | null>(null);
  const titleH = TITLE_PAD_TOP + TITLE_LINE + ROW_TITLE_PAD_BOTTOM[p.row];
  const height = titleH + ROW_PLOT_H[p.row] + X_AXIS_H;
  const top = ROW_PLOT_TOP[p.row] - titleH;
  const left = COL_CANVAS_LEFT[p.col];
  useEffect(() => {
    if (!ref.current) return;
    const chart = new Chart(ref.current, makeConfig(p));
    return () => chart.destroy();
  }, [p]);
  return (
    <canvas
      ref={ref}
      width={CANVAS_W}
      height={height}
      style={{ position: 'absolute', left, top, width: CANVAS_W, height }}
    />
  );
}

export default function App() {
  useEffect(() => {
    document.body.style.margin = '0';
    document.body.style.overflow = 'hidden';
  }, []);
  return (
    <div style={{ position: 'fixed', left: 0, top: 0, width: 1102, height: 477, overflow: 'hidden', background: '#fff' }}>
      <div
        style={{
          position: 'absolute', left: 0, top: 0, width: W0, height: H0,
          transform: `scale(${SX}, ${SY})`, transformOrigin: '0 0',
        }}
      >
        <div
          style={{
            position: 'absolute', left: 0, top: 22, width: W0, textAlign: 'center',
            font: `bold 12px ${FONT}`, lineHeight: '16px', color: '#111', whiteSpace: 'nowrap',
          }}
        >
          {SUPTITLE}
        </div>
        {PANELS.map((p) => (
          <Panel key={p.title} p={p} />
        ))}
      </div>
    </div>
  );
}
